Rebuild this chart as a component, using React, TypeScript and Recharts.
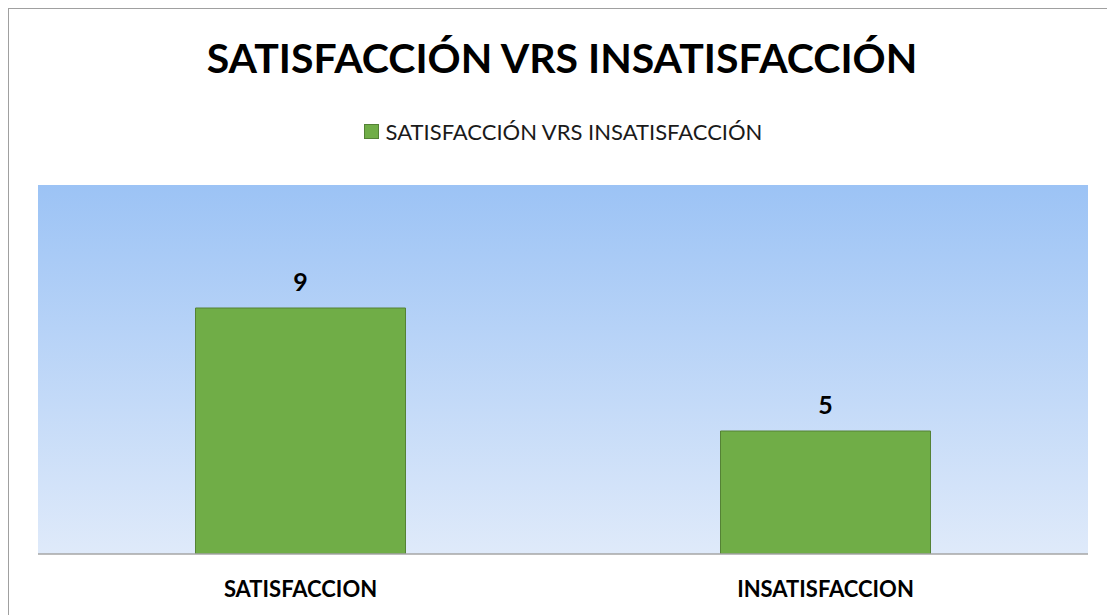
import React from 'react';
import { BarChart, Bar, XAxis, YAxis, CartesianGrid, Legend, LabelList } from 'recharts';

const categories = ['SATISFACCION', 'INSATISFACCION'];
const values = [9, 5];
const seriesName = 'SATISFACCIÓN VRS INSATISFACCIÓN';
const title = 'SATISFACCIÓN VRS INSATISFACCIÓN';

const data = categories.map((c, i) => ({ name: c, value: values[i] }));

const FONT = 'Lato, "Open Sans", sans-serif';

const renderLegend = () => (
    <div style={{ display: 'flex', justifyContent: 'center', alignItems: 'center', fontFamily: FONT, fontSize: 22, color: '#1a1a1a' }}>
        <span style={{ display: 'inline-block', width: 13, height: 13, background: '#70AD47', border: '1px solid #548235', marginRight: 7 }} />
        <span>{seriesName}</span>
    </div>
);

const App: React.FC = () => {
    return (
        <div style={{ position: 'relative', width: 1106, height: 606, borderTop: '1px solid #A0A0A0', borderLeft: '1px solid #A0A0A0', background: '#fff' }}>
            <div style={{ position: 'absolute', top: 28, left: 0, width: 1106, textAlign: 'center', fontFamily: FONT, fontWeight: 700, fontSize: 41, lineHeight: '41px', color: '#000' }}>
                {title}
            </div>
            <BarChart width={1106} height={606} data={data} margin={{ top: 176, right: 27, left: 29, bottom: 21 }} barCategoryGap="30%">
                <defs>
                    <linearGradient id="plotBg" x1="0" y1="0" x2="0" y2="1">
                        <stop offset="0%" stopColor="#9CC3F5" />
                        <stop offset="100%" stopColor="#DFEAFA" />
                    </linearGradient>
                </defs>
                <CartesianGrid horizontal={false} vertical={false} fill="url(#plotBg)" stroke="none" />
                <Legend content={renderLegend} verticalAlign="middle" align="center" layout="horizontal" wrapperStyle={{ top: 109 }} />
                <XAxis
                    dataKey="name"
                    axisLine={{ stroke: '#A6A6A6', strokeWidth: 1.5 }}
                    tickLine={false}
                    tickMargin={21}
                    height={40}
                    tick={{ fill: '#000', fontFamily: FONT, fontWeight: 700, fontSize: 22 }}
                />
                <YAxis hide domain={[1, 13]} allowDataOverflow />
                <Bar dataKey="value" name={seriesName} fill="#70AD47" stroke="#548235" strokeWidth={1} isAnimationActive={false}>
                    <LabelList dataKey="value" position="top" offset={17} style={{ fill: '#000', fontFamily: FONT, fontWeight: 700, fontSize: 25 }} />
                </Bar>
            </BarChart>
        </div>
    );
};

export default App;
